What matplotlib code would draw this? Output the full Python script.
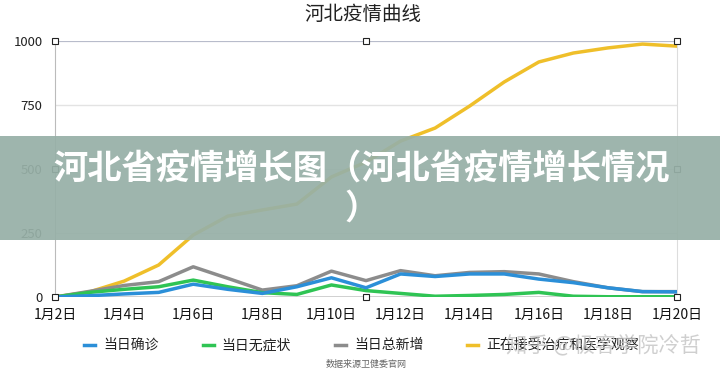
import matplotlib
matplotlib.use("Agg")
import matplotlib.pyplot as plt
from matplotlib.patches import Rectangle
from matplotlib.lines import Line2D

plt.rcParams['font.family'] = ['Noto Sans CJK SC', 'DejaVu Sans']

days = [f"1月{d}日" for d in range(2, 21)]
confirmed = [0, 5, 12, 18, 50, 30, 14, 40, 75, 36, 90, 80, 90, 90, 70, 56, 36, 21, 20]
asymptomatic = [0, 18, 30, 40, 66, 40, 17, 10, 47, 25, 14, 3, 6, 10, 18, 3, 1, 1, 1]
total_new = [0, 22, 45, 60, 118, 73, 27, 44, 101, 64, 103, 83, 96, 99, 90, 60, 36, 21, 21]
under_care = [0, 20, 62, 125, 242, 316, 340, 363, 469, 527, 609, 660, 746, 840, 918, 953, 973, 988, 980]
series_names = ["当日确诊", "当日无症状", "当日总新增", "正在接受治疗和医学观察"]
y_ticks = [0, 250, 500, 750, 1000]

colors = ["#2b8fd8", "#2fc454", "#8c8c8c", "#efbf2a"]

fig = plt.figure(figsize=(7.2, 3.77), dpi=100)
ax = fig.add_axes([55/720, 1-297/377, (677-55)/720, (297-41)/377])
x = list(range(len(days)))

for yv in [250, 500, 750]:
    ax.axhline(yv, color="#e3e3e3", lw=1, zorder=0)
ax.axhline(1000, color="#b8bccb", lw=1.6, zorder=1)
ax.axhline(0, color="#c8c8c8", lw=1.2, zorder=1)

for vals, c in zip([under_care, total_new, asymptomatic, confirmed], [colors[3], colors[2], colors[1], colors[0]]):
    ax.plot(x, vals, color=c, lw=2.5, zorder=3, solid_joinstyle='round')

ax.set_xlim(0, len(days)-1)
ax.set_ylim(0, 1000)
ax.set_yticks(y_ticks)
ax.set_yticklabels([str(v) for v in y_ticks], fontsize=9.5, color="#222222")
ax.set_xticks(x[::2])
ax.set_xticklabels(days[::2], fontsize=10, color="#111111")
ax.tick_params(axis='both', length=0, pad=8)
ax.tick_params(axis='y', pad=9)
for s in ['top', 'bottom']:
    ax.spines[s].set_visible(False)
ax.spines['left'].set_color("#bbbbbb")
ax.spines['right'].set_color("#dddddd")
ax.patch.set_visible(False)

# selection handles
hx = [0, 9, 18, 0, 18, 0, 9, 18]
hy = [1000, 1000, 1000, 500, 500, 0, 0, 0]
ax.plot(hx, hy, ls='none', marker='s', ms=4, mfc='white', mec='#222222', mew=0.8, zorder=5, clip_on=False)

fig.text(363/720, 1-15/377, "河北疫情曲线", ha='center', va='center', fontsize=14, color="#222222")

# legend
leg_items = [(84, 103), (203, 221), (335, 354), (467, 486)]
for (lx, tx), c, name in zip(leg_items, colors, series_names):
    fig.add_artist(Line2D([lx/720, (lx+11)/720], [1-345/377]*2, color=c, lw=2.5))
    fig.text(tx/720, 1-345/377, name, ha='left', va='center', fontsize=10, color="#222222")

fig.text(366/720, 1-364/377, "数据来源卫健委官网", ha='center', va='center', fontsize=6.5, color="#666666")

# overlay band
fig.add_artist(Rectangle((0, 1-240/377), 1, 104/377, transform=fig.transFigure,
                         facecolor="#97b0a7", alpha=0.93, edgecolor='none', zorder=10))
fig.text(362/720, 1-168/377, "河北省疫情增长图（河北省疫情增长情况", ha='center', va='center',
         fontsize=24.7, color='white', fontweight=900, zorder=11)
fig.text(362/720, 1-208/377, "）", ha='center', va='center',
         fontsize=24.7, color='white', fontweight=900, zorder=11)

fig.text(603/720, 1-345/377, "知乎 @极客学院冷哲", ha='center', va='center', fontsize=15.3,
         color="#c4c4c4", alpha=0.8, zorder=12)

fig.savefig("out.png", dpi=100, facecolor='white')
